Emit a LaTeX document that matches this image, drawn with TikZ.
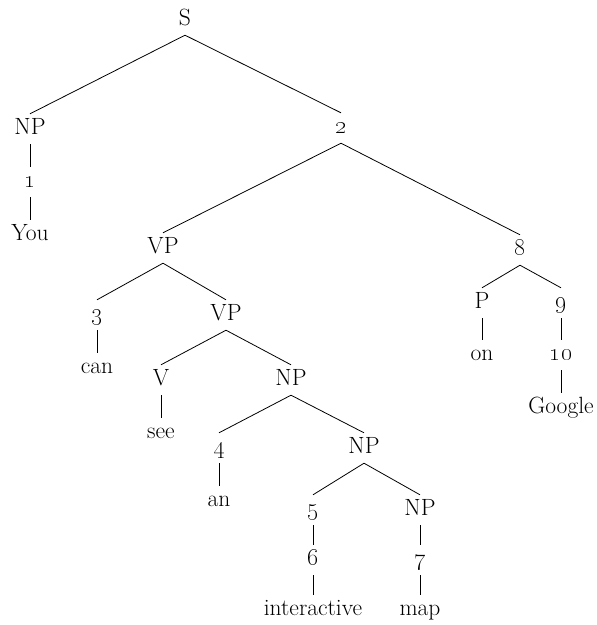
\documentclass[tikz,border=0pt]{standalone}
\tikzset{
  lbl/.style={anchor=base, font=\fontsize{23.5}{28}\selectfont, text height=15pt, text depth=5pt, inner xsep=0pt, inner ysep=5pt},
  br/.style={draw=black, line width=0.8pt}
}
\newcommand{\on}[1]{\oldstylenums{#1}}
\begin{document}
\begin{tikzpicture}[x=1pt,y=-1pt]
\useasboundingbox (0,0) rectangle (597,625);
\node[lbl] (S) at (185,25) {S};
\node[lbl] (np1) at (30,134) {NP};
\node[lbl] (n1) at (30,187) {\on{1}};
\node[lbl] (you) at (30,240) {You};
\node[lbl] (n2) at (341,133) {\on{2}};
\node[lbl] (vp1) at (163,253) {VP};
\node[lbl] (n8) at (520,255) {\on{8}};
\node[lbl] (n3) at (97,320) {\on{3}};
\node[lbl] (vp2) at (226,320) {VP};
\node[lbl] (p) at (482,308) {P};
\node[lbl] (n9) at (561,308) {\on{9}};
\node[lbl] (can) at (97,373) {can};
\node[lbl] (on) at (482,360) {on};
\node[lbl] (n10) at (561,360) {\on{10}};
\node[lbl] (google) at (561,413) {Google};
\node[lbl] (v) at (161,385) {V};
\node[lbl] (np3) at (291,385) {NP};
\node[lbl] (see) at (161,438) {see};
\node[lbl] (n4) at (219,453) {\on{4}};
\node[lbl] (np4) at (364,453) {NP};
\node[lbl] (an) at (219,506) {an};
\node[lbl] (n5) at (313,515) {\on{5}};
\node[lbl] (np5) at (420,515) {NP};
\node[lbl] (n6) at (313,565) {\on{6}};
\node[lbl] (n7) at (420,565) {\on{7}};
\node[lbl] (inter) at (313,615) {interactive};
\node[lbl] (map) at (420,615) {map};
\foreach \a/\b in {S/np1,S/n2,np1/n1,n1/you,n2/vp1,n2/n8,vp1/n3,vp1/vp2,n3/can,vp2/v,vp2/np3,v/see,np3/n4,np3/np4,n4/an,np4/n5,np4/np5,n5/n6,n6/inter,np5/n7,n7/map,n8/p,n8/n9,p/on,n9/n10,n10/google}
  \draw[br] (\a.south) -- (\b.north);
\end{tikzpicture}
\end{document}
